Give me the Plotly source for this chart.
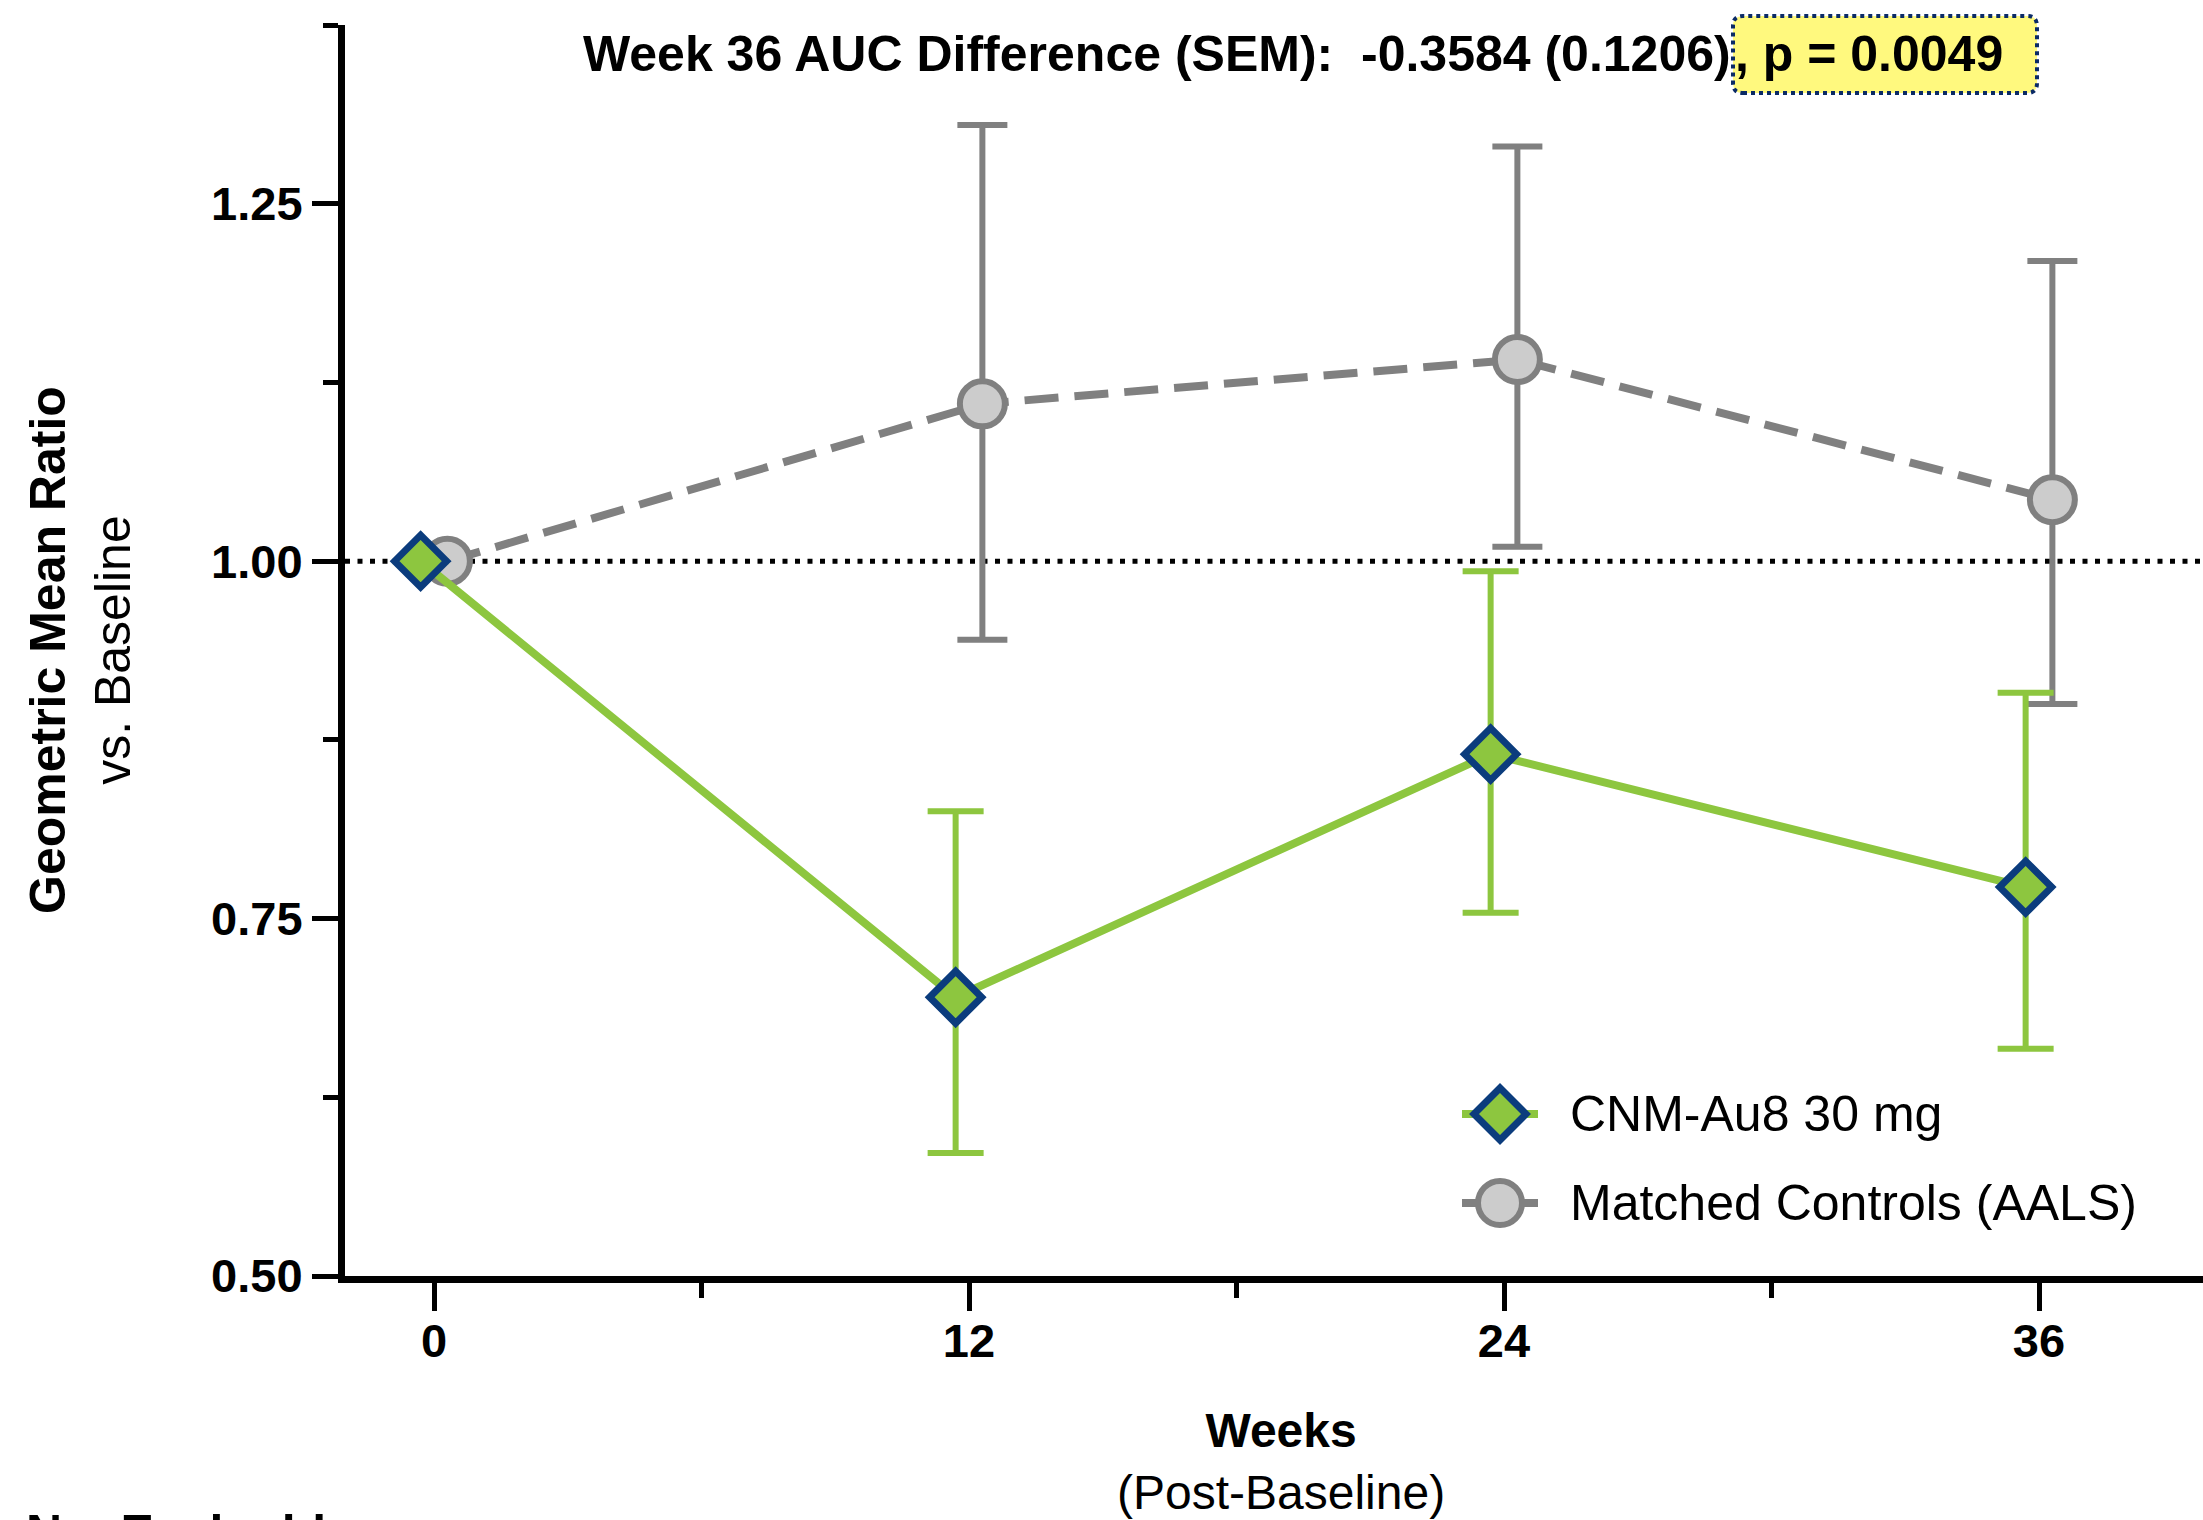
import plotly.graph_objects as go

# ---------------- data ----------------
weeks = [0, 12, 24, 36]
week_ticks = [0, 12, 24, 36]
y_ticks = [0.50, 0.75, 1.00, 1.25]

cnm_name = "CNM-Au8 30 mg"
cnm_gmr = [1.000, 0.695, 0.865, 0.772]
cnm_upper = [1.000, 0.825, 0.993, 0.908]
cnm_lower = [1.000, 0.586, 0.754, 0.659]

ctrl_name = "Matched Controls (AALS)"
ctrl_gmr = [1.000, 1.110, 1.141, 1.043]
ctrl_upper = [1.000, 1.305, 1.290, 1.210]
ctrl_lower = [1.000, 0.945, 1.010, 0.900]

baseline_value = 1.0
title_left = "Week 36 AUC Difference (SEM):\u00a0 -0.3584 (0.1206)"
title_right = ", p = 0.0049"
footer_text = "No. Evaluable"

# ---------------- styling ----------------
W, H = 2203, 1520
ML, MR, MT, MB = 345, 0, 25, 244
PW, PH = W - ML - MR, H - MT - MB
FONT = "Liberation Sans, Arial, Helvetica, sans-serif"
GREEN = "#8DC63F"
NAVY = "#0B3C7D"
GREY = "#808080"
LGREY = "#CCCCCC"
dodge = 0.3


def px_x(p):
    return (p - ML) / PW


def px_y(p):
    return (H - MB - p) / PH


cnm_x = [w - dodge for w in weeks]
ctrl_x = [w + dodge for w in weeks]

fig = go.Figure()

fig.add_trace(go.Scatter(
    x=ctrl_x, y=ctrl_gmr, name=ctrl_name, mode="lines+markers",
    line=dict(color=GREY, width=8, dash="34px,16px"),
    marker=dict(symbol="circle", size=45, color=LGREY, line=dict(color=GREY, width=6)),
    error_y=dict(type="data", symmetric=False,
                 array=[u - m for u, m in zip(ctrl_upper, ctrl_gmr)],
                 arrayminus=[m - l for m, l in zip(ctrl_gmr, ctrl_lower)],
                 color=GREY, thickness=6, width=25),
    showlegend=False, cliponaxis=False,
))

fig.add_trace(go.Scatter(
    x=cnm_x, y=cnm_gmr, name=cnm_name, mode="lines+markers",
    line=dict(color=GREEN, width=8),
    marker=dict(symbol="diamond", size=40, color=GREEN, line=dict(color=NAVY, width=7)),
    error_y=dict(type="data", symmetric=False,
                 array=[u - m for u, m in zip(cnm_upper, cnm_gmr)],
                 arrayminus=[m - l for m, l in zip(cnm_gmr, cnm_lower)],
                 color=GREEN, thickness=6, width=28),
    showlegend=False, cliponaxis=False,
))

x_per_px = 12 / 535.0
x_min = -(434 - ML) * x_per_px
x_max = x_min + PW * x_per_px

tickfont = dict(family=FONT, size=47, color="black", weight="bold")

fig.update_xaxes(
    range=[x_min, x_max], tickvals=week_ticks, ticktext=[str(t) for t in week_ticks],
    showline=True, linecolor="black", linewidth=7, showgrid=False, zeroline=False,
    ticks="outside", ticklen=28, tickwidth=5, tickcolor="black", tickfont=tickfont,
    ticklabelstandoff=-10,
    minor=dict(dtick=6, tick0=0, ticks="outside", ticklen=15, tickwidth=5, tickcolor="black", showgrid=False),
)
fig.update_yaxes(
    range=[0.5, 1.375], tickvals=y_ticks, tickformat=".2f",
    showline=True, linecolor="black", linewidth=7, showgrid=False, zeroline=False,
    ticks="outside", ticklen=26, tickwidth=5, tickcolor="black", tickfont=tickfont,
    minor=dict(dtick=0.125, tick0=0.5, ticks="outside", ticklen=15, tickwidth=5, tickcolor="black", showgrid=False),
)

shapes = []
# dotted baseline at 1.0
shapes.append(dict(type="line", xref="paper", yref="y", x0=0, x1=1, y0=baseline_value, y1=baseline_value,
                   line=dict(color="black", width=5, dash="5px,7.5px"), layer="below"))

# highlight box behind p value
hx, hy = px_x(1885), px_y(54.5)
hw, hh, r = 152, 38.5, 10
box_path = (f"M{-hw + r},{-hh} L{hw - r},{-hh} Q{hw},{-hh} {hw},{-hh + r} L{hw},{hh - r} "
            f"Q{hw},{hh} {hw - r},{hh} L{-hw + r},{hh} Q{-hw},{hh} {-hw},{hh - r} "
            f"L{-hw},{-hh + r} Q{-hw},{-hh} {-hw + r},{-hh} Z")
shapes.append(dict(type="path", xref="paper", yref="paper", xsizemode="pixel", ysizemode="pixel",
                   xanchor=hx, yanchor=hy, path=box_path, fillcolor="#FFF97E",
                   line=dict(color="#0A2A66", width=4, dash="dot"), layer="above"))

# custom legend glyphs
leg_x = px_x(1500)
leg_rows = [px_y(1114), px_y(1203)]
# CNM row
shapes.append(dict(type="line", xref="paper", yref="paper", xsizemode="pixel", ysizemode="pixel",
                   xanchor=leg_x, yanchor=leg_rows[0], x0=-38, x1=38, y0=0, y1=0,
                   line=dict(color=GREEN, width=8)))
shapes.append(dict(type="path", xref="paper", yref="paper", xsizemode="pixel", ysizemode="pixel",
                   xanchor=leg_x, yanchor=leg_rows[0], path="M-26,0 L0,26 L26,0 L0,-26 Z",
                   fillcolor=GREEN, line=dict(color=NAVY, width=7)))
# Control row
shapes.append(dict(type="line", xref="paper", yref="paper", xsizemode="pixel", ysizemode="pixel",
                   xanchor=leg_x, yanchor=leg_rows[1], x0=-38, x1=38, y0=0, y1=0,
                   line=dict(color=GREY, width=8)))
shapes.append(dict(type="circle", xref="paper", yref="paper", xsizemode="pixel", ysizemode="pixel",
                   xanchor=leg_x, yanchor=leg_rows[1], x0=-22, x1=22, y0=-22, y1=22,
                   fillcolor=LGREY, line=dict(color=GREY, width=6)))

annotations = [
    dict(text=f"<b>{title_left}</b>", xref="paper", yref="paper", x=px_x(1733), y=px_y(54),
         xanchor="right", yanchor="middle", showarrow=False,
         font=dict(family=FONT, size=50, color="black")),
    dict(text=f"<b>{title_right}</b>", xref="paper", yref="paper", x=px_x(1733), y=px_y(54),
         xanchor="left", yanchor="middle", showarrow=False,
         font=dict(family=FONT, size=50, color="black")),
    dict(text="<b>Geometric Mean Ratio</b><br>vs. Baseline", xref="paper", yref="paper",
         x=px_x(80), y=px_y(650), xanchor="center", yanchor="middle", textangle=-90, showarrow=False,
         font=dict(family=FONT, size=50, color="black")),
    dict(text="<b>Weeks</b><br>(Post-Baseline)", xref="paper", yref="paper",
         x=px_x(1281), y=px_y(1461), xanchor="center", yanchor="middle", showarrow=False,
         font=dict(family=FONT, size=48, color="black")),
    dict(text=cnm_name, xref="paper", yref="paper", x=px_x(1568), y=leg_rows[0],
         xanchor="left", yanchor="middle", showarrow=False,
         font=dict(family=FONT, size=50, color="black")),
    dict(text=ctrl_name, xref="paper", yref="paper", x=px_x(1568), y=leg_rows[1],
         xanchor="left", yanchor="middle", showarrow=False,
         font=dict(family=FONT, size=50, color="black")),
    dict(text=f"<b>{footer_text}</b>", xref="paper", yref="paper", x=px_x(24), y=px_y(1503),
         xanchor="left", yanchor="top", showarrow=False,
         font=dict(family=FONT, size=50, color="black")),
]

fig.update_layout(
    width=W, height=H,
    margin=dict(l=ML, r=MR, t=MT, b=MB, pad=0),
    paper_bgcolor="white", plot_bgcolor="rgba(0,0,0,0)",
    showlegend=False,
    shapes=shapes, annotations=annotations,
    font=dict(family=FONT, color="black"),
)

fig.write_html("out.html")
